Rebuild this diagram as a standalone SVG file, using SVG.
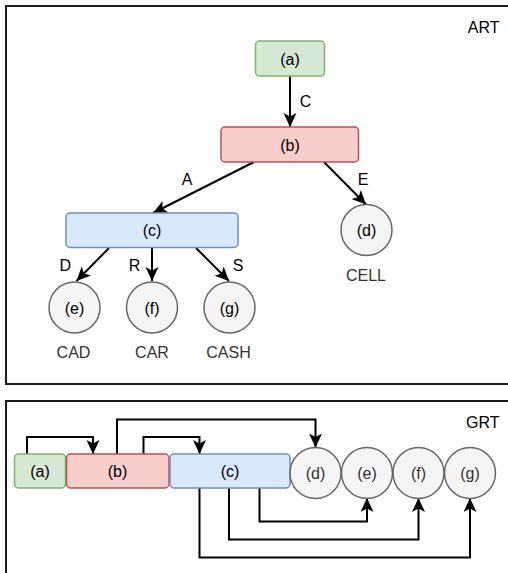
<svg xmlns="http://www.w3.org/2000/svg" width="508" height="573" viewBox="0 0 508 573">
<style>
text{font-family:"Liberation Sans",Arial,sans-serif;font-size:16px;text-anchor:middle;fill:#000}
.frame{fill:none;stroke:#1a1a1a;stroke-width:2}
.green{fill:#d5e8d4;stroke:#82b366;stroke-width:1.5}
.red{fill:#f8cecc;stroke:#b85450;stroke-width:1.5}
.blue{fill:#dae8fc;stroke:#6c8ebf;stroke-width:1.5}
.grey{fill:#f5f5f5;stroke:#666666;stroke-width:1.5}
.gt{fill:#333333}
.edge{fill:none;stroke:#000;stroke-width:2;marker-end:url(#arr)}
</style>
<defs>
<marker id="arr" markerUnits="userSpaceOnUse" markerWidth="16" markerHeight="14" refX="14" refY="6.5" orient="auto">
<path d="M0,0 L14,6.5 L0,13 L3.5,6.5 z" fill="#000"/>
</marker>
</defs>
<rect class="frame" x="6" y="6" width="520" height="378"/>
<text x="499.5" y="32.5" style="text-anchor:end">ART</text>
<rect class="frame" x="6" y="401" width="520" height="200"/>
<text x="499.5" y="428.3" style="text-anchor:end">GRT</text>

<g id="connectors">
<path class="edge" d="M290 76 V127"/>
<path class="edge" d="M254 162 L153 213"/>
<path class="edge" d="M324 162 L366 204.5"/>
<path class="edge" d="M109 248 L76.5 281"/>
<path class="edge" d="M152 248 V281"/>
<path class="edge" d="M196 248 L229 281"/>
<text x="305.5" y="107">C</text>
<text x="187" y="185">A</text>
<text x="363" y="185">E</text>
<text x="65.3" y="270.7">D</text>
<text x="134.5" y="270.7">R</text>
<text x="238" y="270.7">S</text>

<path class="edge" d="M27 454 V437 H93 V454"/>
<path class="edge" d="M117 454 V419.5 H315.5 V447.5"/>
<path class="edge" d="M143.5 454 V437 H199.5 V454"/>
<path class="edge" d="M259.5 488 V521.5 H367 V498"/>
<path class="edge" d="M229 488 V539.5 H418.5 V498"/>
<path class="edge" d="M199.5 488 V557.5 H470 V498"/>
</g>

<g id="art-a"><rect class="green" x="255.5" y="41" width="69" height="35" rx="4"/><text x="290" y="64.5">(a)</text></g>
<g id="art-b"><rect class="red" x="221" y="127" width="137.5" height="35" rx="4"/><text x="290" y="150.5">(b)</text></g>
<g id="art-c"><rect class="blue" x="66" y="213" width="172" height="34.5" rx="4"/><text x="152" y="236">(c)</text></g>
<g id="art-d"><circle class="grey" cx="366.5" cy="230" r="25.5"/><text x="366.5" y="236">(d)</text><text class="gt" x="366" y="280.7">CELL</text></g>
<g id="art-e"><circle class="grey" cx="74.5" cy="307.5" r="25.5"/><text x="74.5" y="313.5">(e)</text><text class="gt" x="73.5" y="357.5">CAD</text></g>
<g id="art-f"><circle class="grey" cx="152" cy="307.5" r="25.5"/><text x="152" y="313.5">(f)</text><text class="gt" x="152" y="357.5">CAR</text></g>
<g id="art-g"><circle class="grey" cx="229.5" cy="307.5" r="25.5"/><text x="229.5" y="313.5">(g)</text><text class="gt" x="228.5" y="357.5">CASH</text></g>

<g id="grt-a"><rect class="green" x="14.5" y="454" width="51" height="34" rx="4"/><text x="40" y="477">(a)</text></g>
<g id="grt-b"><rect class="red" x="66.5" y="454" width="102.5" height="34" rx="4"/><text x="117.5" y="477">(b)</text></g>
<g id="grt-c"><rect class="blue" x="170" y="454" width="120" height="34" rx="4"/><text x="230" y="477">(c)</text></g>
<g id="grt-d"><circle class="grey" cx="315.5" cy="473" r="25.5"/><text class="gt" x="315.5" y="479">(d)</text></g>
<g id="grt-e"><circle class="grey" cx="367" cy="473" r="25.5"/><text class="gt" x="367" y="479">(e)</text></g>
<g id="grt-f"><circle class="grey" cx="418.5" cy="473" r="25.5"/><text class="gt" x="418.5" y="479">(f)</text></g>
<g id="grt-g"><circle class="grey" cx="470" cy="473" r="25.5"/><text class="gt" x="470" y="479">(g)</text></g>
</svg>
